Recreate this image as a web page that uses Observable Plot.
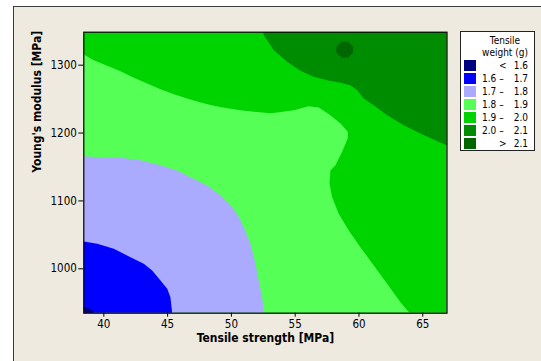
<!DOCTYPE html>
<html>
<head>
<meta charset="utf-8">
<script src="https://cdn.jsdelivr.net/npm/d3@7"></script>
<script src="https://cdn.jsdelivr.net/npm/@observablehq/plot@0.6"></script>
<style>
  html, body { margin: 0; padding: 0; background: #ffffff; }
  #wrap { position: relative; width: 541px; height: 361px; overflow: hidden; background: #ffffff;
          font-family: "DejaVu Sans Condensed", "Liberation Sans", sans-serif; }
  #panel { position: absolute; left: 13px; top: 6px; width: 540px; height: 360px;
           background: #eeeae0; border-left: 1px solid #3a3a3a; border-top: 1px solid #3a3a3a; }
  #chart { position: absolute; left: 0; top: 0; }
  #legend { position: absolute; left: 460px; top: 31px; width: 75px; height: 120px;
            background: #ffffff; border: 1px solid #222; box-sizing: border-box; font-size: 10px; color: #000; }
  .ttl { position: absolute; left: 14px; width: 60px; text-align: center; line-height: 12px; }
  .sw { position: absolute; left: 3px; width: 12px; height: 11px; }
  .lt { position: absolute; line-height: 11px; white-space: nowrap; }
</style>
</head>
<body>
<div id="wrap">
  <div id="panel"></div>
  <div id="chart"></div>
  <div id="legend"></div>
</div>
<script>
// ---- scales / ticks ----
const xTicks = [40, 45, 50, 55, 60, 65];
const yTicks = [1000, 1100, 1200, 1300];
const xDomain = [38.43, 66.9];
const yDomain = [934.6, 1348.6];
const xTitle = "Tensile strength [MPa]";
const yTitle = "Young's modulus [MPa]";

// ---- legend bands ----
const legendTitle = ["Tensile", "weight (g)"];
const bandLow  = ["<", "1.6", "1.7", "1.8", "1.9", "2.0", ">"];
const bandHigh = ["1.6", "1.7", "1.8", "1.9", "2.0", "2.1", "2.1"];
const bandColors = ["#000080", "#0000ff", "#aaaaff", "#55ff55", "#00d400", "#008c00", "#006600"];

// ---- contour boundaries (Tensile strength, Young's modulus) ----
// < 1.6 region boundary (bottom-left corner)
const navyEdge = [[38.43, 943.4], [38.82, 941.9], [39.09, 938.6], [39.21, 934.6]];
// 1.6 – 1.7 upper boundary
const blueEdge = [[38.43, 1040.2], [39.48, 1036.8], [40.78, 1029.5], [42.09, 1017.1], [43.13, 1007.4],
  [43.79, 997.5], [44.44, 982.8], [44.97, 970.5], [45.22, 958.2], [45.36, 934.6]];
// 1.7 – 1.8 upper boundary
const lavenderEdge = [[38.43, 1165.9], [39.74, 1164.4], [41.31, 1163.5], [42.87, 1160.0], [44.44, 1152.6],
  [45.75, 1144.8], [46.79, 1135.0], [48.1, 1122.7], [49.14, 1108.0], [49.93, 1093.3], [50.45, 1081.0],
  [50.97, 1061.3], [51.49, 1036.8], [51.89, 1007.4], [52.14, 982.8], [52.41, 958.2], [52.54, 934.6]];
// 1.8 – 1.9 upper boundary
const lightGreenEdge = [[38.43, 1315.7], [39.21, 1307.3], [40.26, 1299.1], [41.31, 1291.1], [42.35, 1281.4],
  [43.4, 1273.0], [44.44, 1264.6], [45.48, 1257.2], [46.53, 1250.9], [47.58, 1245.0], [48.62, 1240.2],
  [49.67, 1236.6], [50.71, 1233.7], [51.75, 1231.3], [53.06, 1229.3], [53.59, 1230.3], [54.89, 1233.7],
  [56.06, 1239.6], [56.85, 1237.7], [57.76, 1226.3], [58.55, 1214.1], [59.12, 1201.8], [59.12, 1192.0],
  [58.68, 1172.4], [58.16, 1152.6], [57.76, 1144.8], [57.69, 1125.2], [57.9, 1105.5], [58.41, 1081.0],
  [59.2, 1056.4], [60.11, 1031.8], [61.16, 1004.9], [62.21, 977.9], [63.25, 950.8], [63.98, 934.6]];
// 2.0 – 2.1 lower boundary (top-right region)
const darkGreenEdge = [[52.49, 1348.6], [52.54, 1344.2], [53.32, 1322.1], [54.37, 1305.0], [55.41, 1291.7],
  [56.45, 1282.9], [57.5, 1277.9], [58.55, 1274.0], [59.33, 1270.5], [59.86, 1263.1], [60.37, 1250.9],
  [61.16, 1241.0], [62.21, 1226.3], [63.51, 1211.6], [64.82, 1199.3], [66.13, 1188.0], [66.9, 1182.1]];
// > 2.1 small peak
const peakCell = [[58.63, 1334.5], [59.15, 1334.5], [59.54, 1327.1], [59.54, 1318.7], [59.15, 1311.3],
  [58.63, 1311.3], [58.23, 1318.7], [58.23, 1327.1]];

// ---- polygons built from the boundaries and the plot domain ----
const [x0, x1] = xDomain, [y0, y1] = yDomain;
const fullRect = [[x0, y0], [x1, y0], [x1, y1], [x0, y1]];
const polys = [
  {pts: fullRect, color: bandColors[4]},
  {pts: [...darkGreenEdge, [x1, y1]], color: bandColors[5]},
  {pts: peakCell, color: bandColors[6]},
  {pts: [...lightGreenEdge, [x0, y0]], color: bandColors[3]},
  {pts: [...lavenderEdge, [x0, y0]], color: bandColors[2]},
  {pts: [...blueEdge, [x0, y0]], color: bandColors[1]},
  {pts: [...navyEdge, [x0, y0]], color: bandColors[0]}
];

const font = "\"DejaVu Sans Condensed\", \"Liberation Sans\", sans-serif";

const chart = Plot.plot({
  width: 541,
  height: 361,
  marginLeft: 83.3,
  marginRight: 94.5,
  marginTop: 31.7,
  marginBottom: 48.3,
  style: {background: "transparent", fontFamily: font, fontSize: "11.5px", color: "#000"},
  x: {domain: xDomain, label: null},
  y: {domain: yDomain, label: null},
  marks: [
    ...polys.map(p => Plot.line(p.pts, {x: d => d[0], y: d => d[1], fill: p.color, stroke: "none",
      curve: "linear-closed", clip: true})),
    Plot.frame({stroke: "#000", strokeWidth: 1.2}),
    Plot.axisX(xTicks, {tickSize: 4, tickPadding: 3, label: null, tickFormat: d => String(d)}),
    Plot.axisY(yTicks, {tickSize: 5, tickPadding: 2, label: null, tickFormat: d => String(d)}),
    Plot.text([xTitle], {text: d => d, frameAnchor: "bottom", dy: 29, fontWeight: "bold", fontSize: 12}),
    Plot.text([yTitle], {text: d => d, frameAnchor: "left", dx: -47, rotate: -90, fontWeight: "bold", fontSize: 12})
  ]
});
document.getElementById("chart").appendChild(chart);

// ---- legend ----
const lg = document.getElementById("legend");
legendTitle.forEach((t, i) => {
  const d = document.createElement("div");
  d.className = "ttl";
  d.style.top = (3 + i * 12) + "px";
  d.textContent = t;
  lg.appendChild(d);
});
bandColors.forEach((c, i) => {
  const top = 28 + i * 13;
  const sw = document.createElement("div");
  sw.className = "sw";
  sw.style.top = top + "px";
  sw.style.background = c;
  lg.appendChild(sw);
  const lo = document.createElement("div");
  lo.className = "lt";
  lo.style.top = top + "px";
  if (bandLow[i] === "<" || bandLow[i] === ">") {
    lo.style.left = "38px";
    lo.textContent = bandLow[i];
  } else {
    lo.style.left = "21px";
    lo.textContent = bandLow[i] + " \u2013";
  }
  lg.appendChild(lo);
  const hi = document.createElement("div");
  hi.className = "lt";
  hi.style.top = top + "px";
  hi.style.right = "6px";
  hi.textContent = bandHigh[i];
  lg.appendChild(hi);
});
</script>
</body>
</html>
